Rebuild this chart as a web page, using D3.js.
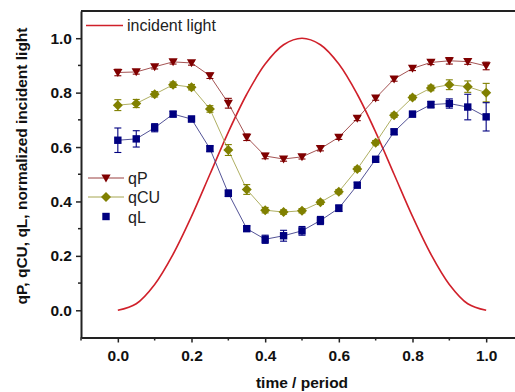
<!DOCTYPE html>
<html>
<head>
<meta charset="utf-8">
<script src="https://d3js.org/d3.v7.min.js"></script>
<style>
  body { margin: 0; background: #fff; }
  svg { font-family: Arial, "Liberation Sans", sans-serif; }
</style>
</head>
<body>
<script>
// time points (fraction of period)
const time = [0, 0.05, 0.1, 0.15, 0.2, 0.25, 0.3, 0.35, 0.4, 0.45, 0.5,
              0.55, 0.6, 0.65, 0.7, 0.75, 0.8, 0.85, 0.9, 0.95, 1.0];

const qP  = [0.874, 0.876, 0.895, 0.913, 0.909, 0.862, 0.761, 0.636, 0.567, 0.556, 0.564,
             0.594, 0.636, 0.705, 0.780, 0.850, 0.889, 0.911, 0.917, 0.914, 0.898];
const qPErr = [0.012, 0.008, 0.008, 0.008, 0.008, 0.010, 0.018, 0.012, 0.010, 0.008, 0.008,
               0.008, 0.008, 0.008, 0.008, 0.008, 0.008, 0.008, 0.012, 0.010, 0.014];

const qCU = [0.754, 0.760, 0.794, 0.829, 0.820, 0.740, 0.589, 0.444, 0.368, 0.361, 0.366,
             0.397, 0.436, 0.519, 0.616, 0.717, 0.782, 0.817, 0.829, 0.822, 0.800];
const qCUErr = [0.020, 0.015, 0.010, 0.010, 0.010, 0.012, 0.020, 0.018, 0.010, 0.008, 0.008,
                0.008, 0.008, 0.008, 0.008, 0.008, 0.008, 0.010, 0.018, 0.021, 0.034];

const qL  = [0.625, 0.630, 0.671, 0.721, 0.703, 0.594, 0.430, 0.300, 0.261, 0.274, 0.292,
             0.330, 0.375, 0.460, 0.555, 0.656, 0.721, 0.756, 0.760, 0.747, 0.711];
const qLErr = [0.045, 0.030, 0.015, 0.010, 0.010, 0.010, 0.012, 0.010, 0.015, 0.020, 0.016,
               0.015, 0.012, 0.010, 0.010, 0.010, 0.010, 0.012, 0.017, 0.047, 0.052];

// normalized incident light
const light = [0, 0.024, 0.095, 0.206, 0.345, 0.5, 0.655, 0.794, 0.905, 0.976, 1.0,
               0.976, 0.905, 0.794, 0.655, 0.5, 0.345, 0.206, 0.095, 0.024, 0];

const xTicks = [0.0, 0.2, 0.4, 0.6, 0.8, 1.0];
const yTicks = [0.0, 0.2, 0.4, 0.6, 0.8, 1.0];

const width = 515, height = 392;
const svg = d3.select("body").append("svg")
  .attr("width", width).attr("height", height);

const x = d3.scaleLinear().domain([-0.1, 1.1]).range([81, 523]);
const y = d3.scaleLinear().domain([-0.1, 1.1]).range([337.5, 11]);

const boldFont = "bold 15.5px Arial, 'Liberation Sans', sans-serif";

// light curve
const lightLine = d3.line()
  .x((d, i) => x(time[i]))
  .y(d => y(d))
  .curve(d3.curveCatmullRom);
svg.append("path")
  .datum(light)
  .attr("d", lightLine)
  .attr("fill", "none")
  .attr("stroke", "#d0202a")
  .attr("stroke-width", 1.6);

const series = [
  {name: "qP", values: qP, err: qPErr, color: "#800000", lineColor: "#9a4040", shape: "tri"},
  {name: "qCU", values: qCU, err: qCUErr, color: "#808000", lineColor: "#a6a650", shape: "dia"},
  {name: "qL", values: qL, err: qLErr, color: "#000080", lineColor: "#40408a", shape: "sq"}
];

function drawMarker(g, shape, cx, cy, color) {
  if (shape === "tri") {
    g.append("path")
      .attr("d", `M${cx - 4.6},${cy - 3.6}L${cx + 4.6},${cy - 3.6}L${cx},${cy + 4.4}Z`)
      .attr("fill", color);
  } else if (shape === "dia") {
    g.append("path")
      .attr("d", `M${cx},${cy - 5}L${cx + 5},${cy}L${cx},${cy + 5}L${cx - 5},${cy}Z`)
      .attr("fill", color);
  } else {
    g.append("rect")
      .attr("x", cx - 3.7).attr("y", cy - 3.7)
      .attr("width", 7.4).attr("height", 7.4)
      .attr("fill", color);
  }
}

series.forEach(s => {
  const g = svg.append("g");
  g.append("path")
    .datum(s.values)
    .attr("d", d3.line().x((d, i) => x(time[i])).y(d => y(d)))
    .attr("fill", "none")
    .attr("stroke", s.lineColor)
    .attr("stroke-width", 0.9);
  // error bars
  s.values.forEach((v, i) => {
    const cx = x(time[i]);
    const y1 = y(v + s.err[i]), y2 = y(v - s.err[i]);
    g.append("line").attr("x1", cx).attr("x2", cx).attr("y1", y1).attr("y2", y2)
      .attr("stroke", s.color).attr("stroke-width", 1.1);
    [y1, y2].forEach(yy => g.append("line")
      .attr("x1", cx - 3.5).attr("x2", cx + 3.5).attr("y1", yy).attr("y2", yy)
      .attr("stroke", s.color).attr("stroke-width", 1.1));
  });
  s.values.forEach((v, i) => drawMarker(g, s.shape, x(time[i]), y(v), s.color));
});

// axes
const xAxis = svg.append("g")
  .attr("transform", `translate(0,${y(-0.1)})`)
  .call(d3.axisBottom(x).tickValues(xTicks).tickSize(5).tickSizeOuter(0).tickPadding(7)
    .tickFormat(d3.format(".1f")));
const yAxis = svg.append("g")
  .attr("transform", `translate(${x(-0.1)},0)`)
  .call(d3.axisLeft(y).tickValues(yTicks).tickSize(5).tickSizeOuter(0).tickPadding(4)
    .tickFormat(d3.format(".1f")));

// minor ticks
[-0.1, 0.1, 0.3, 0.5, 0.7, 0.9, 1.1].forEach(t => {
  svg.append("line").attr("x1", x(t)).attr("x2", x(t))
    .attr("y1", y(-0.1)).attr("y2", y(-0.1) + 3)
    .attr("stroke", "#222").attr("stroke-width", 1.5);
});
[0.1, 0.3, 0.5, 0.7, 0.9].forEach(t => {
  svg.append("line").attr("y1", y(t)).attr("y2", y(t))
    .attr("x1", x(-0.1)).attr("x2", x(-0.1) - 3)
    .attr("stroke", "#222").attr("stroke-width", 1.5);
});

[xAxis, yAxis].forEach(a => {
  a.select(".domain").attr("stroke", "#222").attr("stroke-width", 2);
  a.selectAll(".tick line").attr("stroke", "#222").attr("stroke-width", 1.5);
  a.selectAll(".tick text").style("font", boldFont).attr("fill", "#111");
});

// top border
svg.append("line")
  .attr("x1", x(-0.1)).attr("x2", width)
  .attr("y1", y(1.1)).attr("y2", y(1.1))
  .attr("stroke", "#222").attr("stroke-width", 2);

// axis titles
svg.append("text")
  .attr("x", 302).attr("y", 388)
  .attr("text-anchor", "middle")
  .style("font", boldFont).attr("fill", "#111")
  .text("time / period");
svg.append("text")
  .attr("transform", "translate(27,166) rotate(-90)")
  .attr("text-anchor", "middle")
  .style("font", boldFont).attr("fill", "#111")
  .text("qP, qCU, qL, normalized incident light");

// legends
const legFont = "16px Arial, 'Liberation Sans', sans-serif";
svg.append("line").attr("x1", 86).attr("x2", 123).attr("y1", 25.5).attr("y2", 25.5)
  .attr("stroke", "#d0202a").attr("stroke-width", 1.6);
svg.append("text").attr("x", 127).attr("y", 31).style("font", legFont).attr("fill", "#222")
  .text("incident light");

const legY = [178, 197, 216.5];
series.forEach((s, i) => {
  const g = svg.append("g");
  if (s.shape !== "sq") {
    g.append("line").attr("x1", 88).attr("x2", 124).attr("y1", legY[i]).attr("y2", legY[i])
      .attr("stroke", s.lineColor).attr("stroke-width", 1);
  }
  drawMarker(g, s.shape, 106, legY[i], s.color);
  g.append("text").attr("x", 128).attr("y", legY[i] + 6)
    .style("font", legFont).attr("fill", "#222").text(s.name);
});
</script>
</body>
</html>
